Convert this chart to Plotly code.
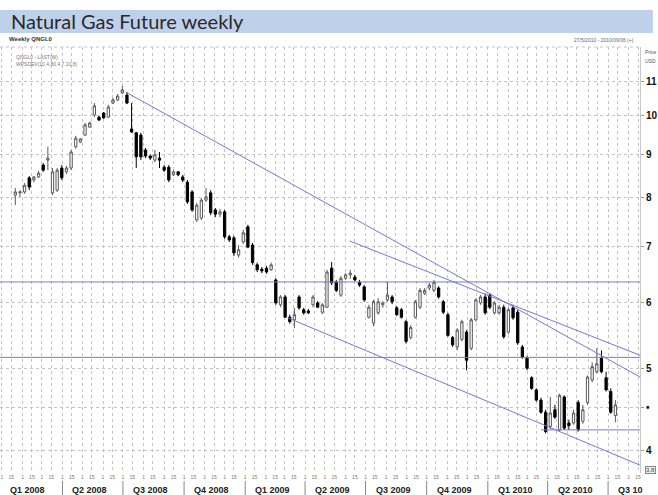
import plotly.graph_objects as go
import pandas as pd

# ---------------- data (weekly candles) ----------------
start_week = "2008-01-21"
opens = [8.05, 8.10, 8.12, 8.44, 8.39, 8.46, 8.74, 8.86, 8.10, 8.16,
         8.67, 8.58, 8.67, 9.19, 9.31, 9.49, 9.70, 10.03, 9.97, 10.08,
         9.97, 10.36, 10.45, 10.65, 10.59, 9.65, 9.55, 9.49, 9.11, 8.96,
         8.86, 8.91, 8.69, 8.69, 8.51, 8.58, 8.46, 8.34, 8.12, 7.52,
         7.56, 7.94, 8.10, 7.73, 7.64, 7.69, 7.18, 7.16, 6.83, 7.08,
         7.38, 7.02, 6.65, 6.57, 6.59, 6.56, 6.38, 5.96, 6.09, 5.76,
         5.72, 6.09, 5.88, 5.86, 5.96, 5.99, 5.84, 5.92, 6.59, 6.34,
         6.12, 6.41, 6.47, 6.43, 6.34, 6.26, 5.76, 5.67, 5.83, 5.96,
         6.04, 6.09, 5.91, 5.88, 5.69, 5.45, 5.76, 5.92, 6.15, 6.24,
         6.20, 6.24, 6.01, 5.80, 5.45, 5.31, 5.42, 5.53, 5.29, 5.72,
         5.99, 6.09, 6.12, 5.83, 5.83, 5.92, 5.53, 5.91, 5.84, 5.31,
         5.15, 4.88, 4.72, 4.59, 4.44, 4.27, 4.47, 4.23, 4.63, 4.31,
         4.31, 4.56, 4.33, 4.56, 4.85, 4.96, 5.15, 4.88, 4.70, 4.40]
highs = [8.21, 8.16, 8.32, 8.48, 8.48, 8.60, 8.79, 9.19, 8.67, 8.67,
         8.74, 8.72, 9.11, 9.47, 9.41, 9.81, 9.84, 10.36, 10.00, 10.11,
         10.31, 10.51, 10.62, 10.86, 10.68, 10.36, 9.57, 9.55, 9.16, 8.99,
         9.11, 9.06, 8.74, 8.74, 8.62, 8.60, 8.51, 8.39, 8.16, 7.88,
         7.99, 8.21, 8.16, 7.77, 7.75, 7.73, 7.22, 7.20, 7.02, 7.32,
         7.42, 7.06, 6.69, 6.61, 6.63, 6.69, 6.41, 6.12, 6.12, 5.80,
         5.91, 6.12, 5.91, 5.89, 6.12, 6.02, 5.99, 6.56, 6.70, 6.38,
         6.45, 6.50, 6.56, 6.47, 6.38, 6.29, 5.96, 6.04, 6.07, 6.02,
         6.34, 6.12, 5.94, 5.91, 5.72, 5.64, 6.04, 6.24, 6.24, 6.33,
         6.38, 6.27, 6.04, 5.83, 5.47, 5.59, 5.72, 5.56, 5.75, 6.07,
         6.12, 6.15, 6.15, 6.02, 5.96, 5.96, 5.91, 5.96, 5.88, 5.34,
         5.18, 4.90, 4.74, 4.62, 4.47, 4.63, 4.53, 4.67, 4.65, 4.35,
         4.47, 4.59, 4.53, 4.91, 5.09, 5.29, 5.26, 4.96, 4.74, 4.59]
lows = [7.83, 8.01, 8.08, 8.16, 8.34, 8.44, 8.58, 8.62, 8.05, 8.12,
        8.39, 8.53, 8.62, 9.14, 9.29, 9.47, 9.68, 9.97, 9.86, 9.92,
        9.95, 10.33, 10.42, 10.62, 10.33, 9.55, 8.67, 8.86, 8.91, 8.86,
        8.81, 8.67, 8.58, 8.34, 8.48, 8.48, 8.34, 7.86, 7.69, 7.48,
        7.52, 7.90, 7.62, 7.58, 7.58, 7.14, 7.08, 6.81, 6.78, 7.04,
        6.96, 6.65, 6.52, 6.50, 6.49, 6.54, 5.96, 5.92, 5.75, 5.66,
        5.59, 5.88, 5.80, 5.81, 5.92, 5.91, 5.81, 5.91, 6.29, 6.17,
        6.09, 6.38, 6.40, 6.36, 6.26, 6.01, 5.74, 5.62, 5.80, 5.91,
        6.01, 5.97, 5.78, 5.74, 5.36, 5.42, 5.74, 5.89, 6.12, 6.20,
        6.17, 6.06, 5.81, 5.46, 5.31, 5.26, 5.39, 4.98, 5.26, 5.69,
        5.96, 5.80, 5.89, 5.80, 5.80, 5.43, 5.50, 5.72, 5.34, 5.14,
        4.98, 4.72, 4.57, 4.42, 4.19, 4.24, 4.36, 4.21, 4.23, 4.23,
        4.29, 4.21, 4.30, 4.53, 4.82, 4.94, 4.94, 4.70, 4.42, 4.32]
closes = [8.12, 8.12, 8.27, 8.23, 8.46, 8.55, 8.62, 8.91, 8.58, 8.62,
          8.44, 8.67, 9.06, 9.41, 9.39, 9.76, 9.81, 10.28, 9.89, 9.95,
          10.25, 10.45, 10.56, 10.74, 10.36, 9.57, 8.94, 8.94, 8.96, 8.91,
          8.99, 8.86, 8.62, 8.39, 8.58, 8.51, 8.39, 7.90, 7.73, 7.83,
          7.94, 8.01, 7.67, 7.64, 7.69, 7.18, 7.12, 6.87, 6.93, 7.26,
          6.98, 6.69, 6.56, 6.54, 6.52, 6.65, 5.99, 6.09, 5.76, 5.69,
          5.80, 5.91, 5.83, 5.83, 6.09, 5.92, 5.96, 6.52, 6.33, 6.20,
          6.41, 6.47, 6.50, 6.38, 6.29, 6.04, 5.92, 6.01, 6.01, 5.99,
          6.12, 6.01, 5.80, 5.76, 5.39, 5.60, 6.01, 6.20, 6.20, 6.29,
          6.34, 6.09, 5.84, 5.48, 5.34, 5.56, 5.69, 5.12, 5.72, 6.04,
          6.09, 5.83, 5.92, 5.99, 5.92, 5.46, 5.88, 5.75, 5.37, 5.16,
          5.01, 4.74, 4.59, 4.44, 4.21, 4.43, 4.38, 4.65, 4.25, 4.28,
          4.43, 4.23, 4.47, 4.89, 5.03, 5.07, 4.96, 4.72, 4.44, 4.53]

# drawn lines (date, price) pairs
trend_upper_long = (["2008-07-05", "2010-08-18"], [10.68, 4.89])
trend_upper_short = (["2009-06-07", "2010-08-18"], [7.10, 5.19])
trend_lower = (["2009-03-06", "2010-08-18"], [5.75, 3.84])
hline_1 = (["2007-12-29", "2010-08-18"], [6.345, 6.345])
hline_2 = (["2007-12-29", "2010-08-18"], [5.16, 5.16])
hline_3 = (["2010-03-22", "2010-08-18"], [4.23, 4.23])

y_tickvals = [4, 4.5, 5, 6, 7, 8, 9, 10, 11]
y_ticktext = ["4", "•", "5", "6", "7", "8", "9", "10", "11"]

quarter_starts = ["2008-01-01", "2008-04-01", "2008-07-01", "2008-10-01",
                  "2009-01-01", "2009-04-01", "2009-07-01", "2009-10-01",
                  "2010-01-01", "2010-04-01", "2010-07-01"]
quarter_labels = ["Q1 2008", "Q2 2008", "Q3 2008", "Q4 2008", "Q1 2009",
                  "Q2 2009", "Q3 2009", "Q4 2009", "Q1 2010", "Q2 2010", "Q3 10"]

x_range = ["2007-12-29", "2010-08-18"]
# ------------------------------------------------------------------------------

dates = pd.date_range(start_week, periods=len(opens), freq="7D")

fig = go.Figure()
fig.add_trace(go.Candlestick(
    x=dates, open=opens, high=highs, low=lows, close=closes,
    increasing=dict(line=dict(color="#5a5a5a", width=1), fillcolor="white"),
    decreasing=dict(line=dict(color="black", width=1), fillcolor="black"),
    hoverinfo="skip", showlegend=False))

blue = "#7478d8"
for xs, ys in [trend_upper_long, trend_upper_short, trend_lower, hline_1, hline_2, hline_3]:
    fig.add_trace(go.Scatter(x=xs, y=ys, mode="lines", line=dict(color=blue, width=1),
                             hoverinfo="skip", showlegend=False))

# grid ticks on the 1st and 15th of each month
grid_dates = []
for m in pd.date_range("2008-01-01", "2010-08-01", freq="MS"):
    grid_dates.append(m)
    grid_dates.append(m + pd.Timedelta(days=14))
grid_text = [str(d.day) for d in grid_dates]

grid_col = "#c4c4c4"
fig.update_layout(
    width=658, height=495,
    margin=dict(l=0, r=13, t=47, b=22),
    paper_bgcolor="white", plot_bgcolor="white",
    showlegend=False,
    font=dict(family="Liberation Sans", color="#222"),
    xaxis=dict(type="date", range=x_range, rangeslider=dict(visible=False),
               tickvals=grid_dates, ticktext=grid_text, tickangle=0,
               tickfont=dict(size=5, color="#777"),
               showgrid=True, gridcolor=grid_col, griddash="dot", gridwidth=1,
               ticks="", showline=False, zeroline=False),
    yaxis=dict(type="log", range=[0.575, 1.0821], side="right",
               tickvals=y_tickvals, ticktext=y_ticktext,
               tickfont=dict(size=10, color="#111", weight="bold"),
               showgrid=True, gridcolor=grid_col, griddash="dot", gridwidth=1,
               ticks="outside", ticklen=3, tickcolor="#999",
               showline=True, linecolor="#c8c8c8", zeroline=False),
)

def py(Y):
    return (473 - Y) / 426.0

def px(X):
    return X / 645.0

shapes = [
    dict(type="rect", xref="paper", yref="paper", x0=px(0), x1=px(658), y0=py(33), y1=py(10),
         fillcolor="#bfd0ea", line=dict(width=0), layer="below"),
    dict(type="line", xref="paper", yref="paper", x0=0, x1=1, y0=1, y1=1,
         line=dict(color=grid_col, width=1, dash="dot")),
]
for q in quarter_starts[1:]:
    shapes.append(dict(type="line", xref="x", yref="paper", x0=q, x1=q, y0=py(481), y1=py(495),
                       line=dict(color="#888", width=1)))
fig.update_layout(shapes=shapes)

ann = [
    dict(text="Natural Gas Future weekly", xref="paper", yref="paper", x=px(9), y=py(21.5),
         xanchor="left", yanchor="middle", showarrow=False,
         font=dict(family="Lato", size=20, color="#2a2a2a")),
    dict(text="Weekly QNGL0", xref="paper", yref="paper", x=px(7), y=py(39),
         xanchor="left", yanchor="middle", showarrow=False,
         font=dict(size=6, color="#333", weight="bold")),
    dict(text="27/5/2010 - 2010/09/06 (+)", xref="paper", yref="paper", x=px(641), y=py(40),
         xanchor="right", yanchor="middle", showarrow=False,
         font=dict(size=5, color="#666")),
    dict(text="QNGL0 - LAST(W)", xref="paper", yref="paper", x=px(14), y=py(57),
         xanchor="left", yanchor="middle", showarrow=False,
         font=dict(size=5, color="#777")),
    dict(text="WPSDEV(10,4,80,4,7,10,8)", xref="paper", yref="paper", x=px(14), y=py(64),
         xanchor="left", yanchor="middle", showarrow=False,
         font=dict(size=5, color="#777")),
    dict(text="Price", xref="paper", yref="paper", x=px(648), y=py(52),
         xanchor="left", yanchor="middle", showarrow=False,
         font=dict(size=5, color="#555")),
    dict(text="USD", xref="paper", yref="paper", x=px(648), y=py(61),
         xanchor="left", yanchor="middle", showarrow=False,
         font=dict(size=5, color="#555")),
    dict(text="3.8", xref="paper", yref="paper", x=px(650), y=py(470),
         xanchor="left", yanchor="middle", showarrow=False,
         font=dict(size=6, color="#444"), bordercolor="#888", borderwidth=1,
         borderpad=0, bgcolor="#eee"),
]
for i, (q, lab) in enumerate(zip(quarter_starts, quarter_labels)):
    xd = pd.Timestamp(q) + pd.Timedelta(days=9 if i == 0 else 12)
    ann.append(dict(text=lab, xref="x", yref="paper", x=xd, y=py(489.5),
                    xanchor="left", yanchor="middle", showarrow=False,
                    font=dict(size=9, color="#222", weight="bold")))
fig.update_layout(annotations=ann)

fig.write_html("out.html")
